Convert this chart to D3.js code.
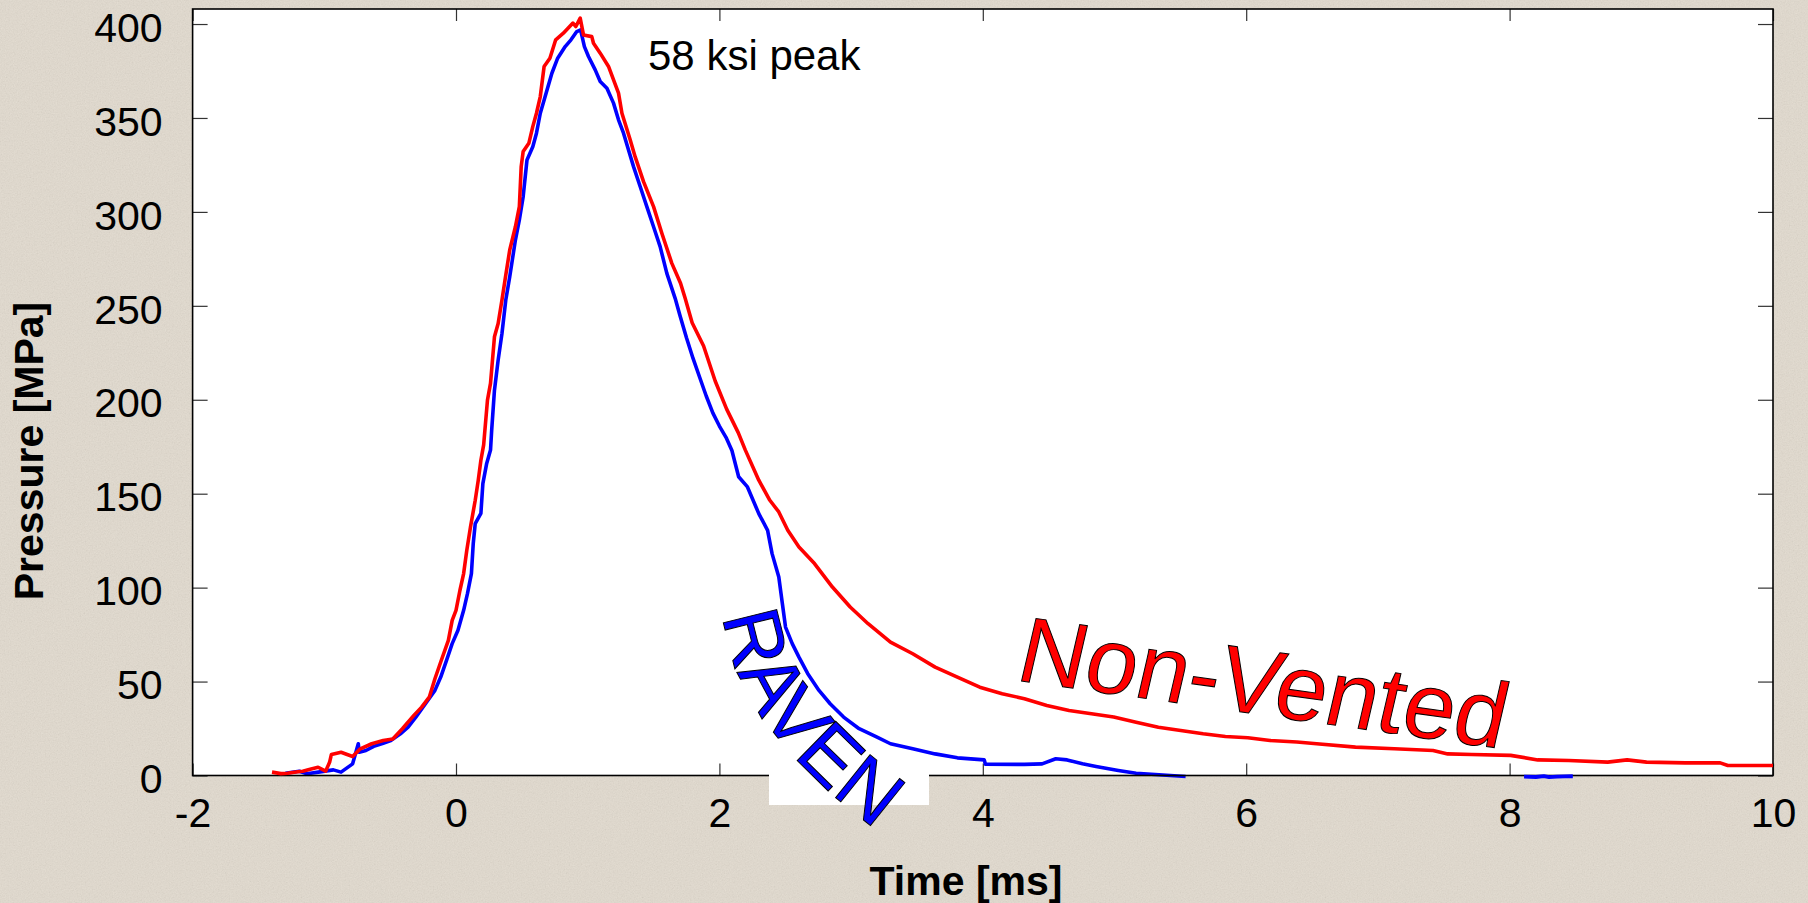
<!DOCTYPE html>
<html>
<head>
<meta charset="utf-8">
<script src="https://cdn.jsdelivr.net/npm/d3@7"></script>
<style>
  html, body { margin: 0; padding: 0; background: #e4ddd1; }
  svg { display: block; }
  text { font-family: "Liberation Sans", Arial, Helvetica, sans-serif; }
</style>
</head>
<body>
<svg id="chart" width="1808" height="903"></svg>
<script>
// ---------------- data ----------------
const xTicks = [-2, 0, 2, 4, 6, 8, 10];
const yTicks = [0, 50, 100, 150, 200, 250, 300, 350, 400];

const xTitle = "Time [ms]";
const yTitle = "Pressure [MPa]";
const peakNote = "58 ksi peak";
const ravenLabel = "RAVEN";
const nonVentedLabel = "Non-Vented";

// Non-Vented (red) trace
const nonVentedTime = [-1.397, -1.33, -1.28, -1.2, -1.164, -1.1, -1.047, -0.99, -0.96, -0.946, -0.873, -0.785, -0.727, -0.64, -0.553, -0.48, -0.407, -0.32, -0.261, -0.203, -0.16, -0.116, -0.058, -0.029, 0.0, 0.03, 0.058, 0.082, 0.11, 0.146, 0.169, 0.189, 0.21, 0.239, 0.262, 0.292, 0.32, 0.349, 0.378, 0.408, 0.451, 0.481, 0.495, 0.51, 0.553, 0.583, 0.611, 0.64, 0.669, 0.713, 0.757, 0.815, 0.888, 0.91, 0.943, 0.968, 1.031, 1.044, 1.095, 1.158, 1.234, 1.26, 1.323, 1.36, 1.424, 1.5, 1.563, 1.639, 1.705, 1.74, 1.793, 1.88, 1.968, 2.055, 2.143, 2.197, 2.299, 2.383, 2.451, 2.519, 2.604, 2.722, 2.858, 2.993, 3.129, 3.299, 3.468, 3.638, 3.807, 3.977, 4.147, 4.316, 4.486, 4.655, 4.825, 4.994, 5.164, 5.333, 5.503, 5.673, 5.842, 6.012, 6.181, 6.385, 6.535, 6.83, 7.125, 7.419, 7.53, 7.713, 8.008, 8.214, 8.45, 8.745, 8.892, 9.04, 9.334, 9.599, 9.657, 10.0];
const nonVentedPressure = [1.8, 1.0, 1.2, 2.0, 2.3, 3.5, 4.4, 2.3, 7, 11.2, 12.4, 10.1, 14.2, 16.9, 18.6, 19.4, 24.9, 32, 36.4, 41.7, 51.5, 60.4, 71.9, 82.6, 87.9, 98.6, 107.5, 119.9, 132.3, 146.5, 157.2, 167.8, 176, 199.8, 208.7, 233.5, 240.6, 253.1, 266.4, 279.7, 292.1, 302.8, 324.1, 332.1, 336.5, 345.4, 352.5, 361.4, 377.4, 381.8, 391.6, 395.1, 400.5, 398.7, 403.1, 394.2, 393.3, 389.8, 384.5, 377.4, 363.2, 352.5, 338.3, 329.4, 316.1, 302.8, 288.6, 272.6, 262, 254, 241, 228.6, 210, 195, 182.5, 173.2, 157.2, 146.5, 140.3, 130.5, 121.6, 112.8, 100.3, 89.7, 80.8, 71, 64.8, 57.7, 52.4, 47, 43.5, 40.9, 37.3, 34.6, 32.9, 31.1, 28.4, 25.7, 24, 22.2, 20.8, 20.1, 18.6, 17.8, 16.9, 15.1, 14.2, 13.3, 11.5, 11.2, 10.7, 8.3, 8, 7.1, 8.3, 7.1, 6.7, 6.7, 5.3, 5.3];

// RAVEN (blue) trace
const ravenTime = [-1.295, -1.19, -1.131, -1.045, -0.931, -0.873, -0.785, -0.742, -0.735, -0.684, -0.625, -0.553, -0.495, -0.422, -0.364, -0.305, -0.232, -0.16, -0.116, -0.072, -0.029, 0.015, 0.058, 0.087, 0.117, 0.131, 0.146, 0.189, 0.204, 0.233, 0.262, 0.271, 0.292, 0.32, 0.349, 0.378, 0.408, 0.451, 0.481, 0.51, 0.539, 0.583, 0.611, 0.64, 0.684, 0.728, 0.772, 0.829, 0.873, 0.917, 0.946, 0.975, 1.006, 1.057, 1.095, 1.146, 1.196, 1.234, 1.272, 1.31, 1.348, 1.399, 1.449, 1.5, 1.55, 1.601, 1.664, 1.70, 1.75, 1.80, 1.85, 1.90, 1.95, 2.0, 2.05, 2.095, 2.146, 2.213, 2.299, 2.366, 2.4, 2.451, 2.478, 2.502, 2.553, 2.604, 2.671, 2.756, 2.841, 2.943, 3.061, 3.197, 3.299, 3.468, 3.638, 3.807, 4.011, 4.02, 4.316, 4.45, 4.554, 4.64, 4.757, 4.86, 5.029, 5.164, 5.367, 5.54];
const ravenPressure = [1.2, 2.3, 0.9, 1.8, 3.0, 1.8, 6.2, 16.9, 12.4, 13.3, 15.5, 17.2, 18.6, 22.2, 25.7, 31.1, 38.2, 45.3, 52.4, 61.3, 70.2, 77.3, 87.9, 96.8, 107.5, 123.5, 134.1, 139.5, 155.4, 166.1, 173.2, 183.8, 205.1, 221.1, 235.3, 253.1, 265.5, 285, 295.7, 308.1, 327.6, 334.7, 341.9, 352.5, 363.2, 373.8, 381.8, 388, 391.6, 396, 396.9, 388, 382.7, 375.6, 369.4, 365.8, 357.9, 349, 341.9, 333, 324.1, 313.4, 302.8, 292.1, 281.5, 267.3, 254, 245, 233, 222, 212, 202, 193, 186, 180, 173, 159, 153.6, 139.4, 130.5, 118.1, 105.6, 91.5, 79, 70.2, 63, 54.2, 45.3, 38.2, 31.1, 24.9, 20.4, 16.9, 14.2, 11.5, 9.4, 8.3, 6.0, 5.9, 6.2, 8.9, 8.3, 6.2, 4.8, 2.7, 1.2, 0.3, -0.5];
// small blue fragment lying on the axis around 8.1-8.5 ms
const ravenTailTime = [8.11, 8.2, 8.26, 8.3, 8.36, 8.42, 8.48];
const ravenTailPressure = [-0.6, -0.8, -0.3, -0.9, -0.6, -0.5, -0.4];

// ---------------- layout ----------------
const W = 1808, H = 903;
const M = { left: 192.6, right: 1773, top: 9, bottom: 775.5 };
const svg = d3.select("#chart");

const x = d3.scaleLinear().domain([-2, 10]).range([M.left, M.right]);
const y = d3.scaleLinear().domain([0, 408]).range([M.bottom, M.top]);

// background paper texture
const defs = svg.append("defs");
const f = defs.append("filter").attr("id", "paper").attr("x", 0).attr("y", 0).attr("width", 1).attr("height", 1);
f.append("feTurbulence").attr("type", "fractalNoise").attr("baseFrequency", 0.75).attr("numOctaves", 3).attr("seed", 7);
f.append("feColorMatrix").attr("type", "matrix")
  .attr("values", "0.33 0.33 0.33 0 0  0.33 0.33 0.33 0 0  0.33 0.33 0.33 0 0  0 0 0 0 1");

svg.append("rect").attr("width", W).attr("height", H).attr("fill", "#e5ddd0");
svg.append("rect").attr("width", W).attr("height", H).attr("filter", "url(#paper)").attr("opacity", 0.16);

// plot area
svg.append("rect")
  .attr("x", M.left).attr("y", M.top)
  .attr("width", M.right - M.left).attr("height", M.bottom - M.top)
  .attr("fill", "#ffffff");

// axes with inward ticks
const fmt = d => String(d);
const gL = svg.append("g").attr("transform", `translate(${M.left},0)`)
  .call(d3.axisLeft(y).tickValues(yTicks).tickSize(-15).tickPadding(30).tickFormat(fmt));
const gR = svg.append("g").attr("transform", `translate(${M.right},0)`)
  .call(d3.axisRight(y).tickValues(yTicks).tickSize(-15).tickFormat(""));
const gB = svg.append("g").attr("transform", `translate(0,${M.bottom})`)
  .call(d3.axisBottom(x).tickValues(xTicks).tickSize(-12).tickPadding(22).tickFormat(fmt));
const gT = svg.append("g").attr("transform", `translate(0,${M.top})`)
  .call(d3.axisTop(x).tickValues(xTicks).tickSize(-12).tickFormat(""));

[gL, gR, gB, gT].forEach(g => {
  g.select(".domain").remove();
  g.selectAll(".tick line").attr("stroke", "#333").attr("stroke-width", 1.2);
  g.selectAll(".tick text")
    .attr("fill", "#000")
    .style("font-size", "41px")
    .style("font-family", "'Liberation Sans', Arial, sans-serif");
});
gL.selectAll(".tick text").attr("dy", "0.42em");
gB.selectAll(".tick text").attr("dy", "0.71em");

// lines
const line = d3.line().x(d => x(d[0])).y(d => y(d[1]));
const ravenData = d3.zip(ravenTime, ravenPressure);
const ravenTail = d3.zip(ravenTailTime, ravenTailPressure);
const nonVentedData = d3.zip(nonVentedTime, nonVentedPressure);

svg.append("path").datum(ravenData).attr("d", line)
  .attr("fill", "none").attr("stroke", "#0000ff").attr("stroke-width", 3.6).attr("stroke-linejoin", "round");

// frame
svg.append("rect")
  .attr("x", M.left).attr("y", M.top)
  .attr("width", M.right - M.left).attr("height", M.bottom - M.top)
  .attr("fill", "none").attr("stroke", "#000").attr("stroke-width", 1.6);

svg.append("path").datum(ravenTail).attr("d", line)
  .attr("fill", "none").attr("stroke", "#0000ff").attr("stroke-width", 3.8).attr("stroke-linejoin", "round");

svg.append("path").datum(nonVentedData).attr("d", line)
  .attr("fill", "none").attr("stroke", "#ff0000").attr("stroke-width", 3.6).attr("stroke-linejoin", "round");

// axis titles
svg.append("text")
  .attr("x", 966).attr("y", 895)
  .attr("text-anchor", "middle")
  .style("font-size", "41px").style("font-weight", "bold")
  .text(xTitle);

svg.append("text")
  .attr("transform", "translate(43,451) rotate(-90)")
  .attr("text-anchor", "middle")
  .style("font-size", "41px").style("font-weight", "bold")
  .text(yTitle);

// peak note
svg.append("text")
  .attr("x", 648).attr("y", 70)
  .style("font-size", "42px")
  .text(peakNote);

// white patch under the RAVEN word art (covers the axis line)
svg.append("rect")
  .attr("x", 769).attr("y", 773).attr("width", 160).attr("height", 32)
  .attr("fill", "#ffffff");

// RAVEN word art along a curve
defs.append("path").attr("id", "ravenPath")
  .attr("d", "M724,616 C730,694 792,768 880,832");
svg.append("text")
  .style("font-size", "80px")
  .attr("fill", "#0000ff").attr("stroke", "#000").attr("stroke-width", 1)
  .append("textPath").attr("href", "#ravenPath")
  .text(ravenLabel);

// Non-Vented word art
svg.append("text")
  .attr("transform", "translate(1014,680) rotate(8) skewX(-5)")
  .style("font-size", "93px")
  .attr("fill", "#ff0000").attr("stroke", "#000").attr("stroke-width", 1)
  .text(nonVentedLabel);
</script>
</body>
</html>
